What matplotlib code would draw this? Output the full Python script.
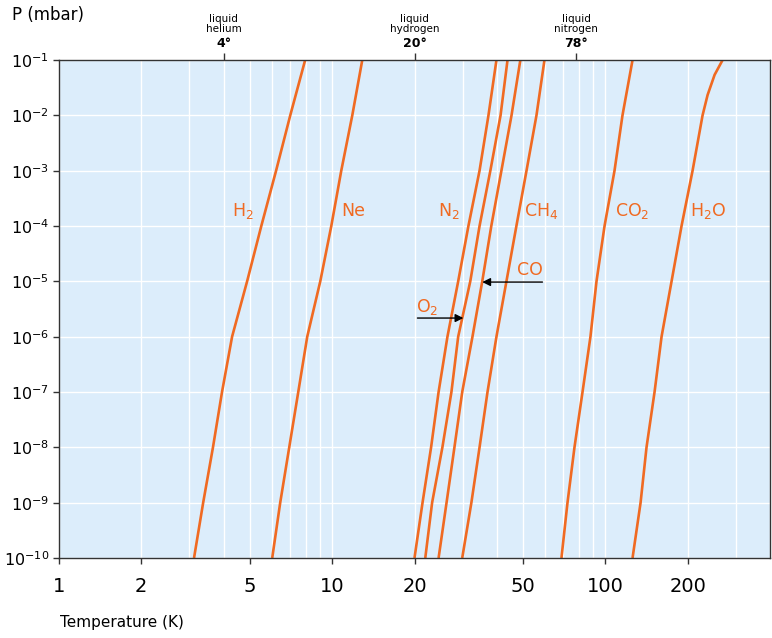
# Vapour pressure curves of common gases (log-log)
import numpy as np
import matplotlib
matplotlib.use('Agg')
import matplotlib.pyplot as plt
from matplotlib.ticker import FixedLocator, LogLocator, NullLocator

plt.rcParams['font.family'] = ['DejaVu Sans']
plt.rcParams['mathtext.fontset'] = 'dejavusans'

# pressure levels (mbar) the curves were read at
P = [1e-1, 1e-2, 1e-3, 1e-4, 1e-5, 1e-6, 1e-7, 1e-8, 1e-9, 1e-10]

# temperatures (K) for each gas at those pressures
T_H2 = [7.96, 7.02, 6.23, 5.50, 4.88, 4.30, 3.95, 3.66, 3.37, 3.12]
T_Ne = [12.88, 11.84, 10.79, 9.92, 9.04, 8.10, 7.51, 6.96, 6.45, 6.03]
T_N2 = [39.9, 37.3, 34.6, 31.5, 28.9, 26.4, 24.5, 23.0, 21.4, 20.0]
T_O2 = [43.8, 41.3, 37.9, 34.6, 32.0, 28.9, 27.3, 25.3, 23.2, 21.9]
T_CO = [48.8, 45.3, 41.6, 38.2, 35.4, 32.6, 29.9, 28.0, 26.2, 24.5]
T_CH4 = [59.8, 55.9, 51.4, 47.2, 43.4, 39.9, 37.0, 34.6, 32.3, 29.9]
T_CO2 = [125.6, 115.4, 107.9, 99.2, 92.7, 88.1, 82.4, 77.0, 72.6, 69.0]

# water bends near the top, so it has two extra points
P_H2O = [1e-1, 5.4e-2, 2.33e-2, 1e-2, 1e-3, 1e-4, 1e-5, 1e-6, 1e-7, 1e-8, 1e-9, 1e-10]
T_H2O = [268.3, 250.8, 236.4, 226.6, 208.3, 189.8, 174.5, 160.4, 151.2, 141.3, 134.4, 125.6]

# label positions (T, P)
labels = [
    ('H$_2$', 4.72, 1.87e-4),
    ('Ne', 11.94, 1.87e-4),
    ('N$_2$', 26.8, 1.87e-4),
    ('CH$_4$', 58.3, 1.87e-4),
    ('CO$_2$', 125.6, 1.87e-4),
    ('H$_2$O', 238.4, 1.87e-4),
]

# reference temperatures on the top axis
ref_T = [4, 20, 78]
ref_names = ['liquid\nhelium', 'liquid\nhydrogen', 'liquid\nnitrogen']
ref_nums = ['4°', '20°', '78°']

x_ticks = [1, 2, 5, 10, 20, 50, 100, 200]
x_ticklabels = ['1', '2', '5', '10', '20', '50', '100', '200']
y_ticks = [10.0 ** -k for k in range(1, 11)]
y_ticklabels = ['$10^{-%d}$' % k for k in range(1, 11)]

orange = '#f06a22'
bg = '#dcedfb'
dark = '#333333'

fig = plt.figure(figsize=(7.72, 6.38), dpi=100)
ax = fig.add_axes([59/772, 80/638, 711/772, 498/638])
ax.set_xscale('log')
ax.set_yscale('log')
ax.set_xlim(1, 400)
ax.set_ylim(1e-10, 1e-1)
ax.set_facecolor(bg)
ax.set_axisbelow(True)

for T in [T_H2, T_Ne, T_N2, T_O2, T_CO, T_CH4, T_CO2]:
    ax.plot(T, P, color=orange, lw=1.9, solid_capstyle='butt')
ax.plot(T_H2O, P_H2O, color=orange, lw=1.9, solid_capstyle='butt')

for txt, t, p in labels:
    ax.text(t, p, txt, color=orange, fontsize=12.5, ha='center', va='center')

ax.text(53.1, 1.6e-5, 'CO', color=orange, fontsize=12.5, ha='center', va='center')
ax.text(22.3, 3.4e-6, 'O$_2$', color=orange, fontsize=12.5, ha='center', va='center')

arrow = dict(arrowstyle='-|>', color='black', lw=1.0, mutation_scale=12,
             shrinkA=0, shrinkB=0)
ax.annotate('', xy=(35.4, 9.7e-6), xytext=(58.8, 9.7e-6), arrowprops=arrow)
ax.annotate('', xy=(30.2, 2.17e-6), xytext=(20.5, 2.17e-6), arrowprops=arrow)

# grid and ticks
ax.xaxis.set_major_locator(FixedLocator(x_ticks))
ax.set_xticklabels(x_ticklabels)
ax.xaxis.set_minor_locator(LogLocator(base=10, subs=range(2, 10)))
ax.yaxis.set_major_locator(FixedLocator(y_ticks))
ax.set_yticklabels(y_ticklabels)
ax.yaxis.set_minor_locator(NullLocator())
ax.grid(True, which='major', color='white', lw=1.0)
ax.grid(True, which='minor', axis='x', color='white', lw=1.0)
ax.tick_params(axis='x', which='major', direction='out', length=4, width=1,
               color=dark, labelsize=14, pad=10)
ax.tick_params(axis='x', which='minor', length=0)
ax.tick_params(axis='y', which='major', direction='out', length=4, width=1,
               color=dark, labelsize=11.5, pad=3)
for s in ax.spines.values():
    s.set_color(dark)
    s.set_linewidth(1.0)

top = ax.secondary_xaxis('top')
top.set_xticks(ref_T)
top.set_xticklabels(['', '', ''])
top.xaxis.set_minor_locator(NullLocator())
top.tick_params(direction='out', length=5, width=1, color=dark)
top.spines['top'].set_visible(False)

for t, name, num in zip(ref_T, ref_names, ref_nums):
    ax.annotate(name, xy=(t, 1), xycoords=('data', 'axes fraction'),
                xytext=(0, 20.5), textcoords='offset points',
                ha='center', va='baseline', fontsize=7.5, linespacing=0.95)
    ax.annotate(num, xy=(t, 1), xycoords=('data', 'axes fraction'),
                xytext=(0, 12), textcoords='offset points',
                ha='center', va='center', fontsize=9, fontweight='bold')

fig.text(12/772, 1 - 15/638, 'P (mbar)', fontsize=12, va='center', ha='left')
fig.text(60/772, 1 - 622/638, 'Temperature (K)', fontsize=11, va='center', ha='left')

fig.savefig('out.png', dpi=100)
